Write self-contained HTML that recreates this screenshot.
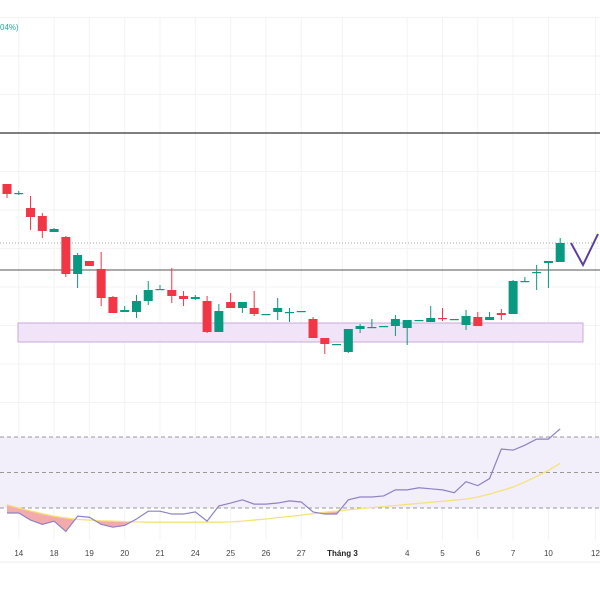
<!DOCTYPE html>
<html><head><meta charset="utf-8"><style>
html,body{margin:0;padding:0;background:#fff;width:600px;height:600px;overflow:hidden}
svg{display:block;font-family:"Liberation Sans",sans-serif}
</style></head><body>
<svg id="c" width="600" height="600">
<text x="0" y="30" font-size="8" fill="#22ab94">04%)</text>
</svg>
<script>
const NS='http://www.w3.org/2000/svg';
const svg=document.getElementById('c');
// candle data (price units), index-based
const opens=[21.6,20.7,19.2,18.4,16.8,16.3,12.6,13.9,13.1,10.3,8.8,8.8,9.9,11.0,11.0,10.4,10.1,9.9,6.8,9.8,9.2,9.2,8.6,8.8,8.8,8.9,8.1,6.2,5.6,4.8,7.1,7.3,7.3,7.4,7.2,8.0,7.8,8.2,8.1,7.5,8.3,8.0,8.7,8.6,11.9,12.7,13.7,13.8];
const closes=[20.6,20.7,18.3,16.9,17.1,12.6,14.5,13.4,10.2,8.7,9.0,9.9,11.0,11.1,10.4,10.1,10.3,6.8,8.9,9.2,9.8,8.6,8.6,9.2,8.8,8.9,6.2,5.6,5.6,7.1,7.4,7.3,7.4,8.1,8.0,8.0,8.2,8.1,8.1,8.4,7.4,8.3,8.5,11.9,11.9,12.8,13.9,15.7];
const highs=[21.6,20.9,20.4,18.7,17.2,16.4,14.7,13.9,14.8,10.4,9.4,10.5,11.9,11.5,13.2,10.9,10.5,10.4,9.6,10.7,9.8,10.9,8.6,10.2,9.2,8.9,8.3,6.2,5.6,5.3,7.6,8.1,7.4,8.5,7.6,8.0,9.4,9.2,8.1,9.0,8.8,8.8,9.1,12.0,12.3,13.5,13.8,16.2];
const lows=[20.2,20.5,17.0,16.2,16.8,12.3,11.2,13.4,9.4,8.7,8.8,8.2,9.5,11.0,9.7,9.4,10.0,6.7,6.9,9.2,8.7,8.4,8.6,8.0,7.8,8.9,6.2,4.6,5.6,4.7,6.7,7.3,7.3,6.4,5.5,8.0,7.8,7.9,8.1,7.0,7.4,8.0,8.0,11.3,11.9,11.0,11.2,13.9];
const rsi=[28.6,28.6,26.6,25.4,26.3,23.4,27.7,27.4,25.4,24.6,25.1,26.9,29.1,29.1,28.3,28.3,28.9,26.3,30.6,31.4,32.3,31.1,31.1,31.4,32.0,31.7,28.9,28.3,28.3,32.3,33.1,33.1,33.4,35.1,35.1,35.7,35.4,35.1,34.3,37.4,36.3,38.3,46.6,46.3,47.7,49.4,49.4,52.3];
const rsiMa=[30.9,30.0,29.2,28.4,27.7,27.2,26.8,26.6,26.4,26.3,26.2,26.1,26.0,26.0,26.0,26.0,26.0,26.0,26.0,26.1,26.3,26.6,26.9,27.3,27.6,28.0,28.4,28.8,29.1,29.5,29.8,30.1,30.4,30.7,31.0,31.3,31.6,31.9,32.2,32.5,33.1,33.9,34.9,35.9,37.3,38.9,40.6,42.6];
const dateLabels=['14','18','19','20','21','24','25','26','27','Tháng 3','4','5','6','7','10','12'];
const dateIdx=[1,4,7,10,13,16,19,22,25,28.5,34,37,40,43,46,50];
const levels=[50,40,30];
// axes
const X=i=>7+i*11.77;
const Y=p=>400-p*10;
const RY=v=>508-(v-30)*3.55;
function el(t,a,p){const e=document.createElementNS(NS,t);for(const k in a)e.setAttribute(k,a[k]);(p||svg).appendChild(e);return e;}
// grid
for(let gy=17.5;gy<420;gy+=38.5){const g=el('line',{x1:0,x2:600,y1:gy,y2:gy,stroke:'#f3f3f3'});

}
dateIdx.forEach(d=>{const g=el('line',{x1:X(d),x2:X(d),y1:17,y2:540,stroke:'#f3f3f3'});

});
// zone
const z=el('rect',{x:18,y:323,width:565,height:19,fill:'#f1e4f8',stroke:'#c9a9da','stroke-width':1});


let l1=el('line',{x1:0,x2:600,y1:133,y2:133,stroke:'#333','stroke-width':1.2});


let l2=el('line',{x1:0,x2:600,y1:270,y2:270,stroke:'#555','stroke-width':1});


let l3=el('line',{x1:0,x2:600,y1:243,y2:243,stroke:'#aaa','stroke-width':1,'stroke-dasharray':'1,2'});


// candles
for(let i=0;i<opens.length;i++){
 const up=closes[i]>=opens[i], c=up?'#089981':'#f23645', x=X(i);
 const g=el('g',{});
 
 
 el('line',{x1:x,x2:x,y1:Y(highs[i]),y2:Y(lows[i]),stroke:c,'stroke-width':1},g);
 const t=Y(Math.max(opens[i],closes[i])),b=Y(Math.min(opens[i],closes[i]));
 el('rect',{x:x-4.5,y:t,width:9,height:Math.max(1.2,b-t),fill:c},g);
}
let v=el('polyline',{points:'571,243 583,265 598,234',fill:'none',stroke:'#5b3fa0','stroke-width':2});


// RSI panel
let band=el('rect',{x:0,y:RY(levels[0]),width:600,height:RY(levels[2])-RY(levels[0]),fill:'#f2effa'});


levels.forEach(lv=>{const d=el('line',{x1:0,x2:600,y1:RY(lv),y2:RY(lv),stroke:'#999','stroke-dasharray':'4,3'});

});
const defs=el('defs',{});
defs.innerHTML='<linearGradient id="pg" x1="0" y1="0" x2="0" y2="1"><stop offset="0" stop-color="#fde6e2"/><stop offset="1" stop-color="#f4a9aa"/></linearGradient>';
const rp=rsi.map((r,i)=>X(i)+','+RY(r)).join(' ');
const mp=rsiMa.map((r,i)=>X(i)+','+RY(r)).join(' ');
const n=rsi.length-1;
const cp=el('clipPath',{id:'belowMa'},defs);
el('polygon',{points:'0,'+RY(rsiMa[0])+' '+mp+' '+X(n)+',600 0,600'},cp);
let f=el('polygon',{points:'0,0 '+rp+' '+X(n)+',0',fill:'url(#pg)','clip-path':'url(#belowMa)'});


let ma=el('polyline',{points:mp,fill:'none',stroke:'#f5e27a','stroke-width':1.3});


let rl=el('polyline',{points:rp,fill:'none',stroke:'#8e82c4','stroke-width':1.2});


let ax=el('line',{x1:0,x2:600,y1:562,y2:562,stroke:'#eee'});


dateLabels.forEach((t,k)=>{const e=el('text',{x:X(dateIdx[k]),y:556,'font-size':8,fill:t==='Tháng 3'?'#222':'#444','text-anchor':'middle','font-weight':t==='Tháng 3'?'bold':'normal'});e.textContent=t;

});
</script>
</body></html>
